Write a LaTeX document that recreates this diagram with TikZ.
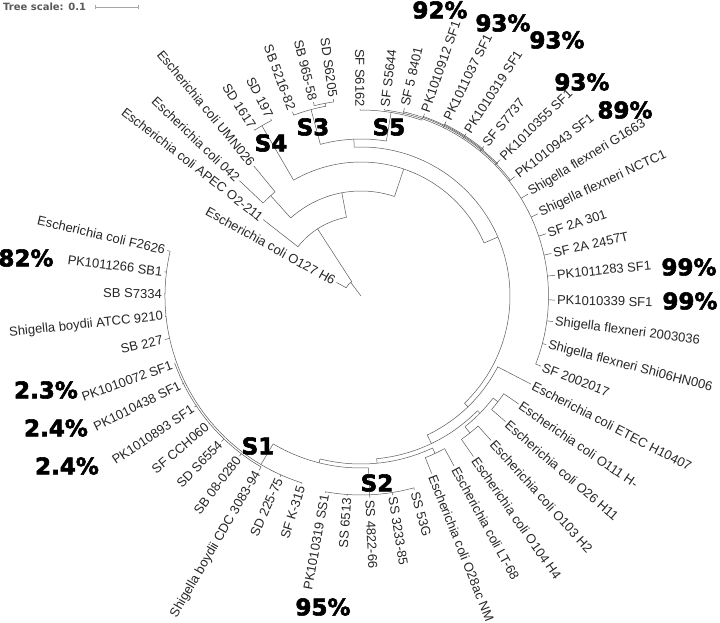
\documentclass[tikz,border=0pt]{standalone}
\usepackage{fontspec}
\setmainfont{Liberation Sans}
\newfontfamily\heavyfont{DejaVu Sans}[UprightFont={DejaVu Sans Bold}, FakeBold=2.5]
\newfontfamily\scalefont{DejaVu Sans}[UprightFont={DejaVu Sans Bold}]
\usetikzlibrary{positioning}

% arc of a clade: radius, from angle, to angle
\newcommand{\brarc}[3]{\draw[br] (#2:#1pt) arc[start angle=#2, end angle=#3, radius=#1pt];}
% radial stem: angle, inner radius, outer radius
\newcommand{\brrad}[3]{\draw[br] (#1:#2pt) -- (#1:#3pt);}
% leaf: name, angle, parent radius, tip radius, label
\newcommand{\leaf}[5]{%
  \coordinate (#1-p) at (#2:#3pt);
  \coordinate (#1-t) at (#2:#4pt);
  \draw[br] (#1-p) -- (#1-t);
  \pgfmathtruncatemacro{\lside}{(#2>90 && #2<270) ? 1 : 0}%
  \ifnum\lside=1
    \node[lab, rotate=#2-180, anchor=east] (#1) at (#2:#4pt+2pt) {#5};
  \else
    \node[lab, rotate=#2, anchor=west] (#1) at (#2:#4pt+2pt) {#5};
  \fi}

\begin{document}
\begin{tikzpicture}[
  x=1pt, y=1pt,
  br/.style={draw=black!65, line width=0.5pt},
  lab/.style={font=\fontsize{13}{13}\selectfont, inner sep=0pt, text=black!85},
  pct/.style={font=\heavyfont\fontsize{23}{23}\selectfont, inner sep=0pt},
  scl/.style={draw=black!35, line width=0.6pt}
]
\useasboundingbox (-361,-327) rectangle (359,296);

% tree scale
\node[font=\scalefont\fontsize{10}{10}\selectfont, text=black!65, anchor=west, inner sep=0pt] (ts) at (-358,289) {Tree scale: 0.1};
\coordinate (sb1) at (-266,289);
\coordinate (sb2) at (-223,289);
\draw[scl] (sb1) -- (sb2);
\draw[scl] ([yshift=-2pt]sb1) -- ([yshift=2pt]sb1);
\draw[scl] ([yshift=-2pt]sb2) -- ([yshift=2pt]sb2);

% root and E. coli outgroups
\brrad{127}{0}{17}
\brarc{17}{122.9}{151}
\leaf{o127}{151}{17}{28}{Escherichia coli O127 H6}
\brrad{122.9}{17}{80}
\brarc{80}{100.5}{142}
\leaf{apec}{142}{80}{124}{Escherichia coli APEC O2-211}
\brrad{100.5}{80}{105}
\brarc{105}{71.4}{132}
\brrad{132}{105}{135}
\brarc{135}{129.5}{136.5}
\leaf{umn}{129.5}{135}{168.5}{Escherichia coli UMN026}
\leaf{e042}{136.5}{135}{167.5}{Escherichia coli 042}
\brrad{71.4}{105}{134}
\brarc{134}{23.3}{120.2}

% S4
\brrad{120.2}{134}{197}
\brarc{197}{117}{122.7}
\leaf{sd1617}{122.7}{197}{198}{SD 1617}
\leaf{sd197}{117}{197}{199}{SD 197}

\brrad{23.3}{134}{149}
\brarc{149}{-46}{92.6}
\brrad{92.6}{149}{157}
\brarc{157}{80.7}{105}

% S3
\brrad{105}{157}{193}
\brarc{193}{100.5}{110.4}
\leaf{sb5216}{110.4}{193}{196.5}{SB 5216-82}
\brrad{100.5}{193}{196}
\brarc{196}{98}{103.8}
\leaf{sb965}{103.8}{196}{199.5}{SB 965-58}
\leaf{sd6205}{98}{196}{199}{SD S6205}

% S5
\brrad{80.7}{157}{186}
\brarc{186}{71}{90.3}
\leaf{sf6162}{90.3}{186}{187}{SF S6162}
\brrad{71}{186}{187.5}
\brarc{187.5}{-21.3}{82.8}
\brarc{189}{37.8}{77}
\brarc{190}{44}{71}
\brarc{191}{50}{64}
\leaf{sf5644}{82.8}{187.5}{188.5}{SF S5644}
\leaf{sf58401}{77}{187.5}{193}{SF 5 8401}
\leaf{pk912}{70.8}{187.5}{193}{PK1010912 SF1}
\leaf{pk1037}{64}{187.5}{194}{PK1011037 SF1}
\leaf{pk319}{57.1}{187.5}{193.5}{PK1010319 SF1}
\leaf{sf7737}{50.6}{187.5}{193.5}{SF S7737}
\leaf{pk355}{44.4}{187.5}{195}{PK1010355 SF1}
\leaf{pk943}{37.8}{187.5}{195}{PK1010943 SF1}
\leaf{g1663}{31.4}{187.5}{195.5}{Shigella flexneri G1663}
\leaf{nctc}{24.9}{187.5}{195}{Shigella flexneri NCTC1}
\leaf{sf301}{18.6}{187.5}{195}{SF 2A 301}
\leaf{sf2457}{12.6}{187.5}{195}{SF 2A 2457T}
\leaf{pk1283}{6.1}{187.5}{195}{PK1011283 SF1}
\leaf{pk339}{-1.2}{187.5}{194}{PK1010339 SF1}
\leaf{sf2003}{-7.6}{187.5}{193.5}{Shigella flexneri 2003036}
\leaf{shi06}{-14.7}{187.5}{191.5}{Shigella flexneri Shi06HN006}
\leaf{sf2002}{-21.3}{187.5}{193}{SF 2002017}

% E. coli, bottom right
\brrad{-46}{149}{154}
\brarc{154}{-64.5}{-27.4}
\leaf{etec}{-27.4}{154}{191.5}{Escherichia coli ETEC H10407}
\brrad{-64.5}{154}{163.5}
\brarc{163.5}{-84.5}{-44.6}
\brrad{-44.6}{163.5}{167}
\brarc{167}{-51.5}{-37.7}
\brrad{-37.7}{167}{173}
\brarc{173}{-41}{-34.4}
\leaf{o111}{-34.4}{173}{191}{Escherichia coli O111 H-}
\leaf{o26}{-41}{173}{191.5}{Escherichia coli O26 H11}
\brrad{-51.5}{167}{175}
\brarc{175}{-55}{-48}
\leaf{o103}{-48}{175}{194.5}{Escherichia coli O103 H2}
\leaf{o104}{-55}{175}{196}{Escherichia coli O104 H4}
\brrad{-84.5}{163.5}{168}
\brarc{168}{255.9}{295.2}
\brrad{295.2}{168}{174}
\brarc{174}{291.7}{298.7}
\leaf{lt68}{-61.3}{174}{194}{Escherichia coli LT-68}
\leaf{o28}{-68.3}{174}{191}{Escherichia coli O28ac NM}
\brrad{255.9}{168}{172}
\brarc{172}{239.3}{272.5}

% S2
\brrad{272.5}{172}{199}
\brarc{199}{259.7}{285.4}
\leaf{ss53g}{285.4}{199}{201}{SS 53G}
\leaf{ss3233}{279}{199}{201.5}{SS 3233-85}
\leaf{ss4822}{272.5}{199}{202}{SS 4822-66}
\leaf{ss6513}{266}{199}{200.5}{SS 6513}
\leaf{pkss1}{259.7}{199}{200}{PK1010319 SS1}

% S1 and SB
\brrad{239.3}{172}{196}
\brarc{196}{166.8}{252.5}
\brarc{198}{200}{239.7}
\leaf{k315}{252.5}{196}{197}{SF K-315}
\leaf{sd225}{245.9}{196}{198}{SD 225-75}
\leaf{cdc}{239.7}{198}{202}{Shigella boydii CDC 3083-94}
\leaf{sb0280}{232.8}{198}{201}{SB 08-0280}
\leaf{sd6554}{226.2}{198}{201.5}{SD S6554}
\leaf{cch}{220.1}{198}{199}{SF CCH060}
\leaf{pk893}{213.7}{198}{200}{PK1010893 SF1}
\leaf{pk438}{206.2}{198}{199.5}{PK1010438 SF1}
\leaf{pk072}{200}{198}{199}{PK1010072 SF1}
\leaf{sb227}{192.5}{196}{201}{SB 227}
\leaf{atcc}{186}{196}{197}{Shigella boydii ATCC 9210}
\leaf{s7334}{179.4}{196}{197}{SB S7334}
\leaf{pk1266}{173}{196}{198}{PK1011266 SB1}
\leaf{f2626}{166.8}{196}{199}{Escherichia coli F2626}

% bootstrap and group labels
\node[pct] (p92) at (79,286) {92\%};
\node[pct] (p93a) at (142,273) {93\%};
\node[pct] (p93b) at (196,256) {93\%};
\node[pct] (p93c) at (221,214) {93\%};
\node[pct] (p89) at (264,186) {89\%};
\node[pct] (p99a) at (328,29) {99\%};
\node[pct] (p99b) at (329,-5) {99\%};
\node[pct] (p82) at (-335,38) {82\%};
\node[pct] (p23) at (-315,-94) {2.3\%};
\node[pct] (p24a) at (-305,-132) {2.4\%};
\node[pct] (p24b) at (-294,-170) {2.4\%};
\node[pct] (p95) at (-38,-311) {95\%};
\node[pct] (s1) at (-103,-150) {S1};
\node[pct] (s2) at (16,-187) {S2};
\node[pct] (s3) at (-48,169) {S3};
\node[pct] (s4) at (-90,153) {S4};
\node[pct] (s5) at (28,169) {S5};
\end{tikzpicture}
\end{document}
